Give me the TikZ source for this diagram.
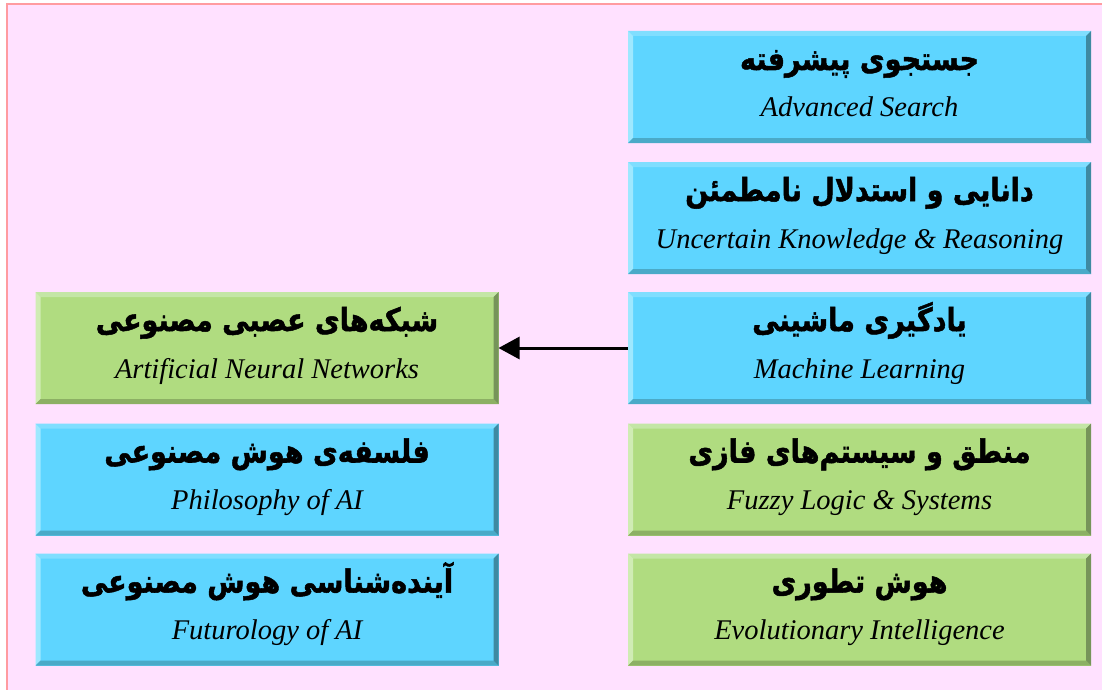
\documentclass[tikz,border=0pt]{standalone}
\usepackage{fontspec}
\usetikzlibrary{calc,arrows.meta}
\TeXXeTstate=1
\newfontfamily\fafont[Script=Arabic,FakeBold=1.6]{DejaVu Sans}
\newfontfamily\enfont{Liberation Serif}
\definecolor{bgpink}{RGB}{255,225,255}
\definecolor{brdpink}{RGB}{255,155,160}
\definecolor{bluface}{RGB}{94,213,255}
\definecolor{blutop}{RGB}{128,222,255}
\definecolor{bluleft}{RGB}{158,232,255}
\definecolor{bluright}{RGB}{62,138,162}
\definecolor{blubottom}{RGB}{74,170,200}
\definecolor{grnface}{RGB}{176,220,128}
\definecolor{grntop}{RGB}{196,230,166}
\definecolor{grnleft}{RGB}{208,236,180}
\definecolor{grnright}{RGB}{118,148,90}
\definecolor{grnbottom}{RGB}{140,176,100}
\tikzset{
  bevbox/.style={draw=none, fill=#1face, minimum width=463pt, minimum height=112pt, inner sep=0pt, outer sep=0pt},
  fatext/.style={font=\fafont\bfseries\fontsize{27}{32}\selectfont, anchor=base, inner sep=0pt},
  entext/.style={font=\enfont\itshape\fontsize{28.5}{32}\selectfont, anchor=base, inner sep=0pt},
  conn/.style={line width=3pt, -{Triangle[length=21pt,width=22pt]}}
}
\newcommand\bevel[2]{%
  \fill[#2top] (#1.north west) -- (#1.north east) -- ($(#1.north east)+(-5,5)$) -- ($(#1.north west)+(5,5)$) -- cycle;
  \fill[#2left] (#1.north west) -- (#1.south west) -- ($(#1.south west)+(5,-5)$) -- ($(#1.north west)+(5,5)$) -- cycle;
  \fill[#2bottom] (#1.south west) -- (#1.south east) -- ($(#1.south east)+(-5,-5)$) -- ($(#1.south west)+(5,-5)$) -- cycle;
  \fill[#2right] (#1.north east) -- (#1.south east) -- ($(#1.south east)+(-5,-5)$) -- ($(#1.north east)+(-5,5)$) -- cycle;
}
\newcommand\labels[3]{%
  \node[fatext] (#1fa) at ($(#1.center)+(0,-17)$) {\scalebox{1}[1.18]{#2}};
  \node[entext] (#1en) at ($(#1.center)+(0,30)$) {#3};
}
\begin{document}
\begin{tikzpicture}[x=1pt,y=-1pt]
\useasboundingbox (0,0) rectangle (1102,690);
\fill[white] (0,0) rectangle (1102,690);
\fill[bgpink] (6,3) rectangle (1102,690);
\draw[brdpink, line width=2pt] (1102,4) -- (7,4) -- (7,690);
% right column
\node[bevbox=blu] (s1) at (859.5,87) {};
\node[bevbox=blu] (s2) at (859.5,218) {};
\node[bevbox=blu] (s3) at (859.5,348) {};
\node[bevbox=grn] (s4) at (859.5,479.5) {};
\node[bevbox=grn] (s5) at (859.5,609.5) {};
% left column
\node[bevbox=grn] (l3) at (267,348) {};
\node[bevbox=blu] (l4) at (267,479.5) {};
\node[bevbox=blu] (l5) at (267,609.5) {};
\bevel{s1}{blu}\bevel{s2}{blu}\bevel{s3}{blu}\bevel{s4}{grn}\bevel{s5}{grn}
\bevel{l3}{grn}\bevel{l4}{blu}\bevel{l5}{blu}
\labels{s1}{\beginR جستجوی پیشرفته\endR}{Advanced Search}
\labels{s2}{\beginR دانایی و استدلال نامطمئن\endR}{Uncertain Knowledge \& Reasoning}
\labels{s3}{\beginR یادگیری ماشینی\endR}{Machine Learning}
\labels{s4}{\beginR منطق و سیستم^^^^200cهای فازی\endR}{Fuzzy Logic \& Systems}
\labels{s5}{\beginR هوش تطوری\endR}{Evolutionary Intelligence}
\labels{l3}{\beginR شبکه^^^^200cهای عصبی مصنوعی\endR}{Artificial Neural Networks}
\labels{l4}{\beginR فلسفه^^^^200cی هوش مصنوعی\endR}{Philosophy of AI}
\labels{l5}{\beginR آینده^^^^200cشناسی هوش مصنوعی\endR}{Futurology of AI}
\draw[conn] (s3.west) -- (l3.east);
\end{tikzpicture}
\end{document}
